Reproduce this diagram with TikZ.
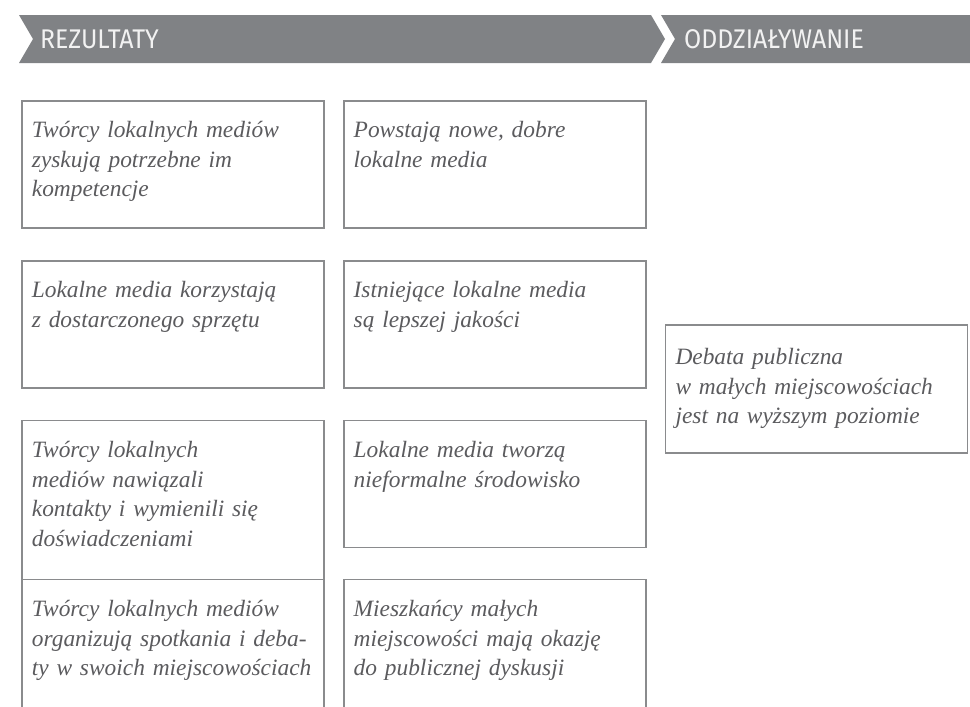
\documentclass[tikz,border=0pt]{standalone}
\usepackage{fontspec}
\usepackage{tikz}
\usetikzlibrary{positioning}
\setmainfont{Liberation Serif}
\newfontfamily\naglowek[FakeStretch=0.92]{Fira Sans}
\definecolor{pasek}{HTML}{808285}
\definecolor{ramka}{HTML}{8A8B8D}
\definecolor{tekst}{HTML}{5B5B5E}
\tikzstyle{wynik} = [rectangle, draw=ramka, line width=1.8pt, text=tekst,
    text width=282pt, inner xsep=10pt, inner ysep=12pt,
    execute at begin node={\rightskip=-24pt plus 1fil\relax},
    text height=25pt, text depth=78pt, font=\itshape\fontsize{23.4}{29.5}\selectfont]
\tikzstyle{wplyw} = [rectangle, draw=ramka, line width=1.8pt, text=tekst,
    text width=282pt, align=left, inner xsep=10pt, minimum height=128pt,
    font=\itshape\fontsize{23.4}{29.5}\selectfont]
\tikzstyle{etap} = [fill=pasek]
\tikzstyle{etykieta} = [text=white!95!black, anchor=west, inner sep=0pt,
    font=\naglowek\fontsize{27}{27}\selectfont]

\begin{document}
\begin{tikzpicture}[x=1pt,y=-1pt]
    \useasboundingbox (0,0) rectangle (970,707);
    % Header bars
    \fill[etap] (19,15) -- (651,15) -- (665,39) -- (651,63) -- (19,63) -- (33,39) -- cycle;
    \fill[etap] (661,15) -- (970,15) -- (970,63) -- (661,63) -- (675,39) -- cycle;
    \node[etykieta] (rezultaty) at (40,39) {REZULTATY};
    \node[etykieta] (oddzialywanie) at (684,39) {ODDZIAŁYWANIE};
    % Place nodes
    \node[wynik, anchor=north west] (kompetencje) at (21,100) {Twórcy lokalnych mediów\\zyskują potrzebne im\\kompetencje};
    \node[wynik, right=18pt of kompetencje] (nowe) {Powstają nowe, dobre\\lokalne media};
    \node[wynik, below=31pt of kompetencje] (sprzet) {Lokalne media korzystają\\z dostarczonego sprzętu};
    \node[wynik, right=18pt of sprzet] (jakosc) {Istniejące lokalne media\\są lepszej jakości};
    \node[wynik, below=31pt of sprzet, text depth=110pt] (kontakty) {Twórcy lokalnych\\mediów nawiązali\\kontakty i wymienili się\\doświadczeniami};
    \node[wynik, below=31pt of jakosc] (srodowisko) {Lokalne media tworzą\\nieformalne środowisko};
    \node[wynik, below=-1.8pt of kontakty, text depth=95pt] (spotkania) {Twórcy lokalnych mediów\\organizują spotkania i deba-\\ty w swoich miejscowościach};
    \node[wynik, right=18pt of spotkania, text depth=95pt] (dyskusja) {Mieszkańcy małych\\miejscowości mają okazję\\do publicznej dyskusji};
    \node[wplyw, right=18pt of jakosc.south east] (debata) {Debata publiczna\\w małych miejscowościach\\jest na wyższym poziomie};
\end{tikzpicture}
\end{document}
